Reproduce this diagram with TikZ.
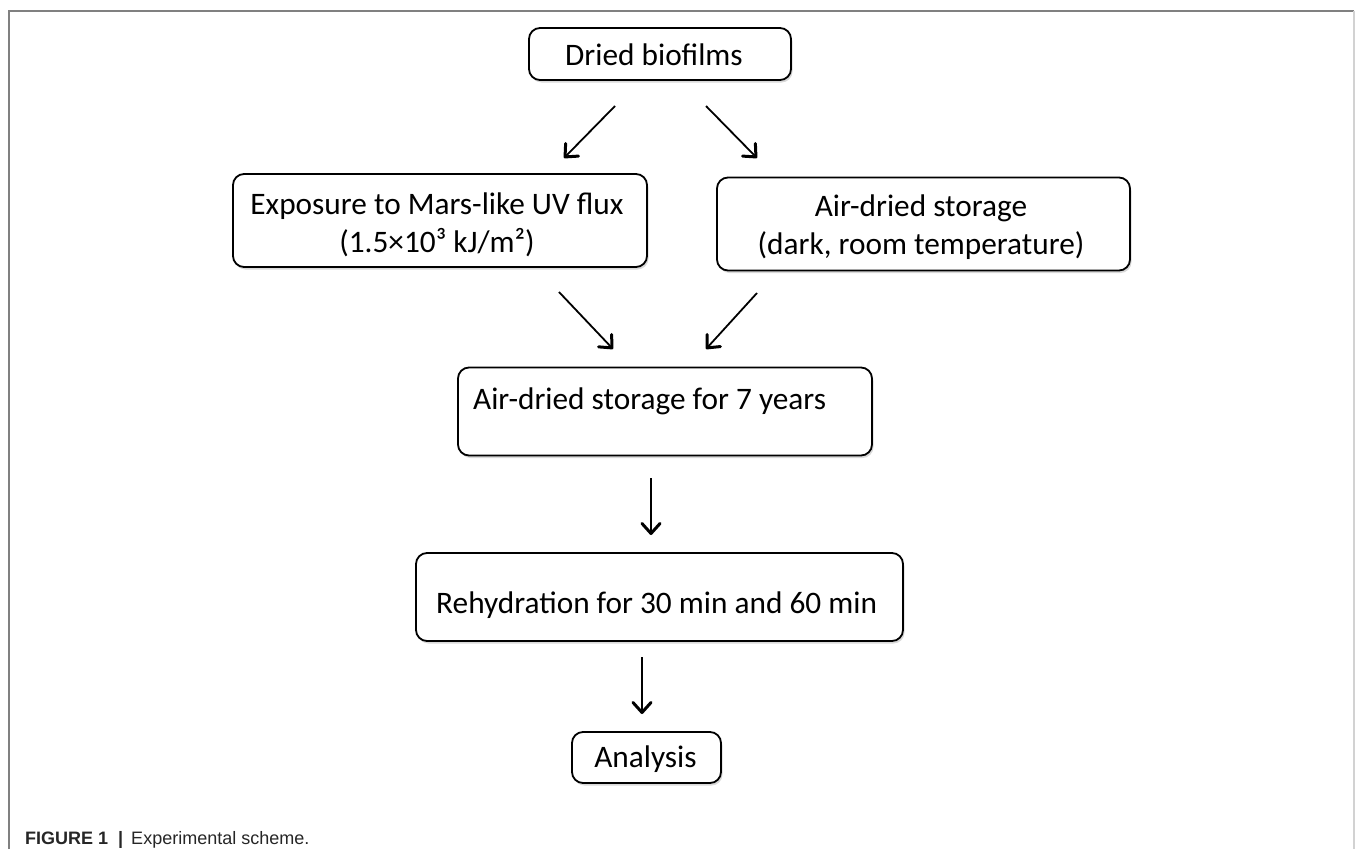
\documentclass[tikz,border=0pt]{standalone}
\usepackage{fontspec}
\setmainfont{Carlito}
\newfontfamily\capfont{Liberation Sans}
\usetikzlibrary{arrows.meta,shadows}
\begin{document}
\begin{tikzpicture}[x=1pt,y=-1pt,
  box/.style={draw=black, line width=1.8pt, rounded corners=11pt, fill=white,
    drop shadow={opacity=0.3,shadow xshift=1.5pt,shadow yshift=-2.5pt},
    inner sep=0pt},
  txt/.style={font=\fontsize{31.3}{36}\selectfont, inner sep=0pt},
  arr/.style={line width=1.8pt, -{Straight Barb[length=10pt,width=18pt,line width=3pt,round]}},
  frame/.style={line width=1.5pt}
]
\useasboundingbox (0,0) rectangle (1355,849);
% frame
\draw[frame, gray] (9,849) -- (9,11) -- (1354,11);
\draw[frame, gray!35] (1354,11) -- (1354,849);

% boxes
\node[box, minimum width=262pt, minimum height=52pt] (top) at (660,54) {};
\node[box, minimum width=414pt, minimum height=93pt] (exp) at (440,220.5) {};
\node[box, minimum width=413pt, minimum height=93pt] (air) at (923.5,224) {};
\node[box, minimum width=414pt, minimum height=88pt] (mid) at (665,411.5) {};
\node[box, minimum width=487pt, minimum height=88pt] (reh) at (659.5,597) {};
\node[box, minimum width=149pt, minimum height=51pt] (ana) at (646.5,757.5) {};

% texts
\node[txt, anchor=base] (ttop) at (654,65) {Dried biofilms};
\node[txt, anchor=base] (texp1) at (437,214) {Exposure to Mars-like UV flux};
\node[txt, anchor=base] (texp2) at (437,252) {(1.5×10³ kJ/m²)};
\node[txt, anchor=base] (tair1) at (921,216) {Air-dried storage};
\node[txt, anchor=base] (tair2) at (921,254) {(dark, room temperature)};
\node[txt, anchor=base west] (tmid) at (473,409) {Air-dried storage for 7 years};
\node[txt, anchor=base west] (treh) at (436,613) {Rehydration for 30 min and 60 min};
\node[txt, anchor=base] (tana) at (645.5,767) {Analysis};

% arrow end points
\coordinate (a1s) at (615,106);  \coordinate (a1e) at (564,158);
\coordinate (a2s) at (706,106);  \coordinate (a2e) at (757,158);
\coordinate (a3s) at (559,292);  \coordinate (a3e) at (613,349);
\coordinate (a4s) at (757,293);  \coordinate (a4e) at (706,349);
\coordinate (a5s) at (651,478);  \coordinate (a5e) at (651,535);
\coordinate (a6s) at (642,657);  \coordinate (a6e) at (642,714);

\draw[arr] (a1s) -- (a1e);
\draw[arr] (a2s) -- (a2e);
\draw[arr] (a3s) -- (a3e);
\draw[arr] (a4s) -- (a4e);
\draw[arr] (a5s) -- (a5e);
\draw[arr] (a6s) -- (a6e);

% caption
\node[anchor=base west, inner sep=0pt, text=black!85,
  font=\capfont\fontsize{18}{20}\selectfont] (cap) at (25,844)
  {\textbf{FIGURE 1}\hspace{0.55em}\textbf{|}\hspace{0.45em}Experimental scheme.};
\end{tikzpicture}
\end{document}
